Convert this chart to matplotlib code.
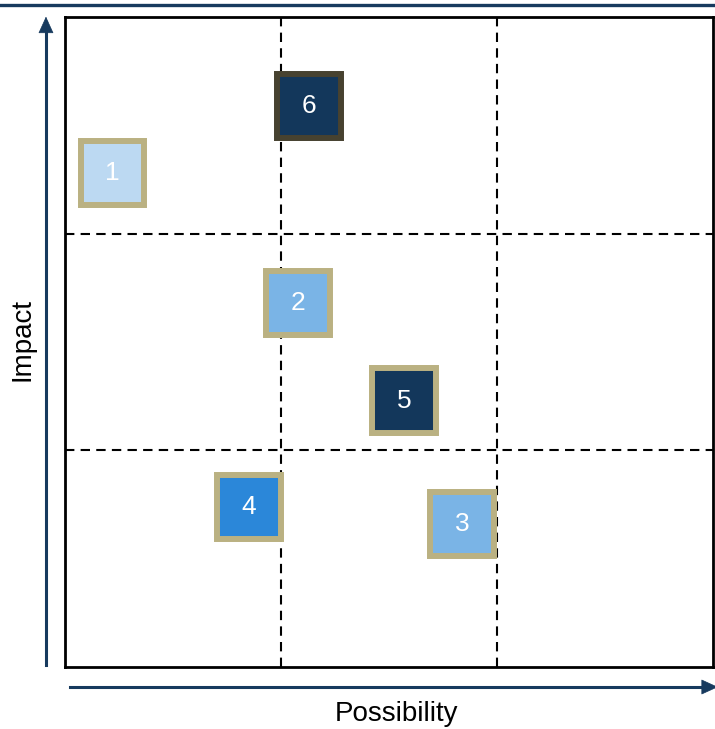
import matplotlib.pyplot as plt
from matplotlib.patches import Rectangle

plt.rcParams['font.family'] = ['Liberation Sans', 'DejaVu Sans']

# Risk items: id, possibility (x), impact (y), fill, border
labels = ["1", "2", "3", "4", "5", "6"]
possibility = [0.22, 1.08, 1.84, 0.85, 1.57, 1.13]
impact = [2.28, 1.68, 0.66, 0.74, 1.23, 2.59]
fills = ["#bcd9f2", "#7ab4e6", "#7ab4e6", "#2b87d9", "#13375b", "#13375b"]
borders = ["#bab182", "#bab182", "#bab182", "#bab182", "#bab182", "#474230"]

NAVY = "#173a5e"
BOX = 0.296

fig = plt.figure(figsize=(7.15, 7.29), dpi=100)
ax = fig.add_axes([0.0909, 0.0850, 0.9063, 0.8916])
ax.set_xlim(0, 3)
ax.set_ylim(0, 3)
ax.set_xticks([])
ax.set_yticks([])
for s in ax.spines.values():
    s.set_linewidth(2)
    s.set_color("black")

# 3x3 grid
for v in (1, 2):
    ax.axvline(v, color="black", lw=1.5, ls=(0, (4.5, 3)), zorder=1)
    ax.axhline(v, color="black", lw=1.5, ls=(0, (4.5, 3)), zorder=1)

for lab, x, y, fc, ec in zip(labels, possibility, impact, fills, borders):
    ax.add_patch(Rectangle((x - BOX / 2, y - BOX / 2), BOX, BOX,
                           facecolor=fc, edgecolor=ec, lw=4.3, zorder=3))
    ax.text(x, y, lab, color="white", fontsize=19, ha="center", va="center", zorder=4)

# header rule and axis arrows
fig.add_artist(plt.Line2D([0, 0.998], [0.9931, 0.9931], color=NAVY, lw=2.4))
fig.add_artist(plt.Line2D([0.0643, 0.0643], [0.088, 0.97], color=NAVY, lw=2.2))
ax.annotate("", xy=(0.0643, 0.981), xytext=(0.0643, 0.96), xycoords="figure fraction",
            arrowprops=dict(arrowstyle="-|>,head_length=1.1,head_width=0.5",
                            color=NAVY, lw=0.5))
fig.add_artist(plt.Line2D([0.098, 0.99], [0.0576, 0.0576], color=NAVY, lw=2.2))
ax.annotate("", xy=(1.008, 0.0576), xytext=(0.98, 0.0576), xycoords="figure fraction",
            arrowprops=dict(arrowstyle="-|>,head_length=1.1,head_width=0.5",
                            color=NAVY, lw=0.5))

fig.text(0.554, 0.021, "Possibility", fontsize=20, ha="center", va="center")
fig.text(0.031, 0.534, "Impact", fontsize=20, ha="center", va="center", rotation=90)

fig.savefig("out.png", dpi=100)
